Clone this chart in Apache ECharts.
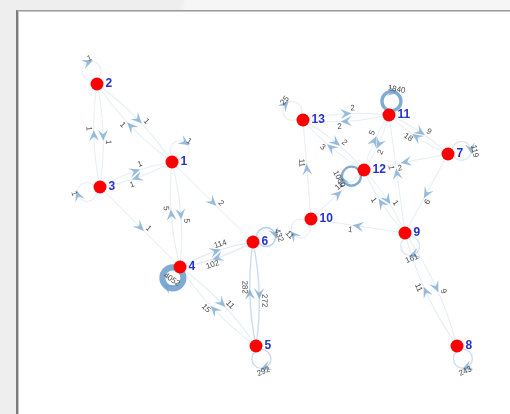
<!DOCTYPE html>
<html>
<head>
<meta charset="utf-8">
<script src="https://cdn.jsdelivr.net/npm/echarts@6/dist/echarts.min.js"></script>
<style>
  html, body { margin: 0; padding: 0; width: 510px; height: 414px; overflow: hidden; background: #eeeeee; }
  #backdrop { position: absolute; left: 0; top: 0; width: 510px; height: 414px;
    background: linear-gradient(100deg, #eeeeee 0, #eeeeee 31%, #f6f6f6 32%, #f6f6f6 96%, #ececec 97%); }
  #panel { position: absolute; left: 16px; top: 10px; width: 620px; height: 520px; background: #ffffff;
    border-left: 2px solid #7c7c7c; border-top: 1px solid #9c9c9c;
    box-shadow: inset 1px 1px 0 #c8c8c8; }
  #chart { position: absolute; left: 0; top: 0; width: 510px; height: 414px; }
</style>
</head>
<body>
<div id="backdrop"></div>
<div id="panel"></div>
<div id="chart"></div>
<script>
// Network nodes: names and layout coordinates
const nodeNames = ['1', '2', '3', '4', '5', '6', '7', '8', '9', '10', '11', '12', '13'];
const layoutX = [172, 97, 100, 180, 256, 253, 448, 457, 405, 311, 389, 364, 303];
const layoutY = [162, 84, 187, 267, 346, 242, 154, 346, 233, 219, 115, 170, 120];

// Directed edges (by node name) and their weights
const edgeSource = ['2', '2', '3', '2', '1', '1', '1', '3', '3', '1', '4', '1', '3', '4', '4', '6', '4', '5', '6', '5', '6', '5',
                    '13', '11', '13', '13', '12', '11', '12', '11', '11', '7', '7', '7', '7', '12', '9', '12', '9', '10', '10', '9', '10', '9', '9', '8', '8'];
const edgeTarget = ['2', '3', '2', '1', '2', '1', '3', '1', '3', '4', '1', '6', '4', '4', '6', '4', '5', '4', '6', '6', '5', '5',
                    '13', '13', '11', '12', '13', '12', '11', '11', '7', '11', '7', '12', '9', '12', '11', '9', '12', '12', '13', '10', '10', '9', '8', '9', '8'];
const edgeWeight = [1, 1, 1, 1, 1, 1, 1, 1, 1, 5, 5, 2, 1, 4052, 114, 102, 11, 15, 432, 282, 272, 292,
                    25, 2, 2, 2, 3, 2, 5, 1840, 9, 18, 119, 2, 6, 1060, 1, 1, 1, 11, 11, 1, 11, 161, 9, 11, 243];

const idx = name => nodeNames.indexOf(name);

// Self-loops point away from the node's neighbours
function loopAngle(n) {
  let sx = 0, sy = 0;
  const seen = {};
  edgeSource.forEach((s, i) => {
    const a = idx(s), b = idx(edgeTarget[i]);
    if (a === b) return;
    let other = -1;
    if (a === n) other = b; else if (b === n) other = a;
    if (other < 0 || seen[other]) return;
    seen[other] = true;
    const dx = layoutX[other] - layoutX[n], dy = layoutY[other] - layoutY[n];
    const l = Math.hypot(dx, dy) || 1;
    sx += dx / l; sy += dy / l;
  });
  return Math.atan2(-sy, -sx);
}

const edgeData = edgeSource.map((s, i) => {
  const a = idx(s), b = idx(edgeTarget[i]);
  const reverse = edgeSource.some((s2, j) => idx(s2) === b && idx(edgeTarget[j]) === a);
  return [layoutX[a], layoutY[a], layoutX[b], layoutY[b], edgeWeight[i],
          a === b ? 1 : 0, reverse && a !== b ? 1 : 0, a === b ? loopAngle(a) : 0];
});

const nodeData = nodeNames.map((n, i) => ({ name: n, value: [layoutX[i], layoutY[i]] }));

function edgeWidth(w) { return 1 + w / 800; }
function edgeColor(w) {
  const a = Math.min(0.8, 0.16 + w / 1600);
  return 'rgba(95,150,200,' + a.toFixed(3) + ')';
}
const ARROW_COLOR = 'rgba(115,162,205,0.72)';
const LABEL_COLOR = '#4a4a4a';

function arrowPoints(x, y, ux, uy, size) {
  // feathered arrow head centred on (x, y) pointing along (ux, uy)
  const nx = -uy, ny = ux;
  const L = size, W = size * 0.9;
  const tip = [x + ux * L / 2, y + uy * L / 2];
  const back = [x - ux * L / 2, y - uy * L / 2];
  const notch = [x - ux * L * 0.1, y - uy * L * 0.1];
  return [tip, [back[0] + nx * W / 2, back[1] + ny * W / 2], notch, [back[0] - nx * W / 2, back[1] - ny * W / 2]];
}

function uprightRotation(ux, uy) {
  let ang = Math.atan2(uy, ux);
  if (ang > Math.PI / 2) ang -= Math.PI;
  if (ang < -Math.PI / 2) ang += Math.PI;
  return -ang;
}

function renderEdge(params, api) {
  const p1 = api.coord([api.value(0), api.value(1)]);
  const p2 = api.coord([api.value(2), api.value(3)]);
  const w = api.value(4);
  const isLoop = api.value(5) === 1;
  const bend = api.value(6) === 1;
  const text = String(w);
  const children = [];
  const font = { fontSize: 8, fontFamily: 'Liberation Sans, Arial, sans-serif',
                 fill: LABEL_COLOR, align: 'center', verticalAlign: 'middle' };

  if (isLoop) {
    const ang = api.value(7);
    const ux = Math.cos(ang), uy = Math.sin(ang);
    const heavy = w >= 2000;
    const R = heavy ? 10.5 : 9.5;
    const d = heavy ? 13 : 14;
    const cx = p1[0] + ux * d, cy = p1[1] + uy * d;
    children.push({
      type: 'circle',
      shape: { cx: cx, cy: cy, r: R },
      style: { fill: 'none', stroke: edgeColor(w), lineWidth: edgeWidth(w) }
    });
    const fx = cx + ux * R, fy = cy + uy * R;
    const tx = -uy, ty = ux;
    children.push({
      type: 'polygon',
      shape: { points: arrowPoints(fx, fy, tx, ty, 11) },
      style: { fill: ARROW_COLOR }
    });
    const lx = heavy ? cx + ux * 2 : fx + ux * 3 + tx * 3;
    const ly = heavy ? cy + uy * 2 : fy + uy * 3 + ty * 3;
    children.push({
      type: 'text', x: lx, y: ly,
      rotation: uprightRotation(tx, ty),
      style: Object.assign({ text: text }, font)
    });
  } else {
    const dx = p2[0] - p1[0], dy = p2[1] - p1[1];
    const len = Math.hypot(dx, dy);
    const ux = dx / len, uy = dy / len;
    const nx = uy, ny = -ux;
    const k = bend ? 0.09 : 0;
    const mx = (p1[0] + p2[0]) / 2, my = (p1[1] + p2[1]) / 2;
    const qx = mx + nx * k * len, qy = my + ny * k * len;
    children.push({
      type: 'path',
      shape: { pathData: 'M' + p1[0] + ' ' + p1[1] + 'Q' + qx + ' ' + qy + ' ' + p2[0] + ' ' + p2[1] },
      style: { fill: 'none', stroke: edgeColor(w), lineWidth: edgeWidth(w) }
    });
    const ax = mx + nx * k * len / 2, ay = my + ny * k * len / 2;
    children.push({
      type: 'polygon',
      shape: { points: arrowPoints(ax, ay, ux, uy, 11) },
      style: { fill: ARROW_COLOR }
    });
    children.push({
      type: 'text',
      x: ax + nx * 5 + ux * 7, y: ay + ny * 5 + uy * 7,
      rotation: uprightRotation(ux, uy),
      style: Object.assign({ text: text }, font)
    });
  }
  return { type: 'group', children: children };
}

const chart = echarts.init(document.getElementById('chart'), null, { renderer: 'canvas' });
chart.setOption({
  backgroundColor: 'transparent',
  animation: false,
  grid: { left: 0, right: 0, top: 0, bottom: 0 },
  xAxis: { type: 'value', min: 0, max: 510, show: false },
  yAxis: { type: 'value', min: 0, max: 414, inverse: true, show: false },
  series: [
    {
      type: 'custom',
      coordinateSystem: 'cartesian2d',
      renderItem: renderEdge,
      encode: { x: [0, 2], y: [1, 3] },
      data: edgeData,
      silent: true,
      z: 1
    },
    {
      type: 'scatter',
      data: nodeData,
      symbolSize: 13,
      itemStyle: { color: '#ff0000', opacity: 1 },
      label: {
        show: true,
        position: 'right',
        distance: 2,
        formatter: p => p.name,
        color: '#2233cc',
        fontWeight: 'bold',
        fontSize: 12,
        fontFamily: 'Liberation Sans, Arial, sans-serif'
      },
      z: 5
    }
  ]
});
</script>
</body>
</html>
